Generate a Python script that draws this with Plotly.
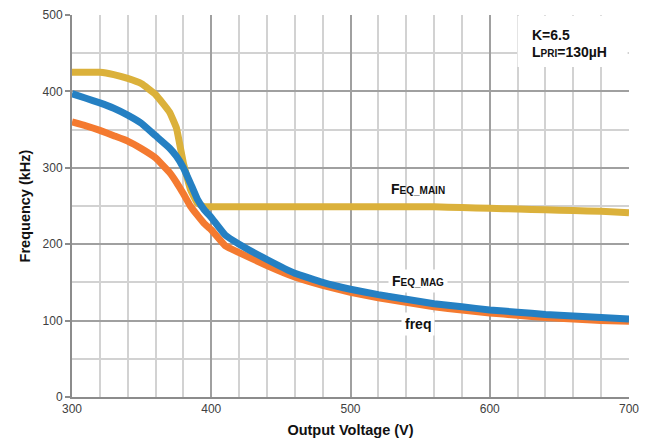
import plotly.graph_objects as go

voltage = [300, 310, 320, 330, 340, 350, 360, 370, 375, 380, 385, 390, 395, 400,
           410, 420, 440, 460, 480, 500, 520, 540, 560, 580, 600, 620, 640, 660, 680, 700]
f_eq_main = [425, 425, 425, 422, 417, 410, 396, 373, 352, 306, 272, 254, 249, 249,
             249, 249, 249, 249, 249, 249, 249, 249, 249, 248, 247, 246, 245, 244, 243, 241]
f_eq_mag = [397, 391, 385, 378, 369, 358, 342, 326, 315, 300, 280, 259, 245, 235,
            212, 200, 180, 162, 150, 141, 134, 128, 122, 118, 114, 111, 108, 106, 104, 102]
freq = [360, 355, 349, 342, 335, 325, 313, 294, 281, 266, 250, 238, 227, 219,
        198, 189, 172, 157, 146, 137, 130, 124, 118, 114, 110, 107, 104, 102, 100, 99]

x_ticks = [300, 400, 500, 600, 700]
y_ticks = [0, 100, 200, 300, 400, 500]

GOLD = "#DBB13B"
BLUE = "#2580C3"
ORANGE = "#F47A30"
TITLE_FONT = "Liberation Sans Narrow, Arial Narrow, Liberation Sans, Arial"
TICK_FONT = "Liberation Sans, Arial"

fig = go.Figure()
fig.add_trace(go.Scatter(x=voltage, y=f_eq_main, mode="lines", name="F_EQ_MAIN",
                         line=dict(color=GOLD, width=7, shape="spline", smoothing=0.3)))
fig.add_trace(go.Scatter(x=voltage, y=freq, mode="lines", name="freq",
                         line=dict(color=ORANGE, width=7, shape="spline", smoothing=0.3)))
fig.add_trace(go.Scatter(x=voltage, y=f_eq_mag, mode="lines", name="F_EQ_MAG",
                         line=dict(color=BLUE, width=7, shape="spline", smoothing=0.3)))

# white box behind K / L_PRI text
fig.add_shape(type="rect", x0=620, x1=699, y0=432, y1=499, xref="x", yref="y",
              fillcolor="white", line=dict(width=0), layer="between")

ann_font = dict(family="Liberation Sans, Arial", size=14, color="#111111")
SUB = '<span style="font-size:10px">{}</span>'
fig.add_annotation(x=548.5, y=272, text="<b>F" + SUB.format("EQ_MAIN") + "</b>",
                   showarrow=False, font=ann_font)
fig.add_annotation(x=548.5, y=152, text="<b>F" + SUB.format("EQ_MAG") + "</b>",
                   showarrow=False, font=ann_font, bgcolor="white", borderpad=3)
fig.add_annotation(x=548.5, y=95, text="<b>freq</b>", showarrow=False,
                   font=ann_font, bgcolor="white", borderpad=3)
fig.add_annotation(x=629, y=474, text="<b>K=6.5</b>", showarrow=False, xanchor="left",
                   font=ann_font)
fig.add_annotation(x=629, y=452, text="<b>L" + SUB.format("PRI") + "=130µH</b>",
                   showarrow=False, xanchor="left", font=ann_font)

# page body has an 8px margin; size the figure so the plot lands where the reference has it
fig.update_layout(
    width=648, height=438,
    margin=dict(l=64, r=27, t=7, b=49),
    paper_bgcolor="white", plot_bgcolor="white",
    showlegend=False,
    xaxis=dict(
        range=[300, 700], tickvals=x_ticks, ticktext=[str(v) for v in x_ticks],
        showgrid=True, gridcolor="#a0a0a0", gridwidth=1.5,
        minor=dict(dtick=20, tick0=300, showgrid=True, gridcolor="#d2d2d2", gridwidth=1.5),
        showline=True, linecolor="#8c8c8c", linewidth=2,
        ticks="", zeroline=False, ticklabeloverflow="allow", automargin=False,
        tickfont=dict(family=TICK_FONT, size=12, color="#404040"),
        title=dict(text="<b>Output Voltage (V)</b>",
                   font=dict(family=TITLE_FONT, size=14.5, color="#111111"), standoff=9),
    ),
    yaxis=dict(
        range=[0, 500], tickvals=y_ticks, ticktext=[str(v) for v in y_ticks],
        showgrid=True, gridcolor="#a0a0a0", gridwidth=1.5,
        minor=dict(dtick=50, tick0=0, showgrid=True, gridcolor="#d2d2d2", gridwidth=1.5),
        showline=True, linecolor="#8c8c8c", linewidth=2,
        ticks="outside", ticklen=5, tickcolor="#8c8c8c", tickwidth=1.5,
        zeroline=False, ticklabeloverflow="allow", automargin=False,
        tickfont=dict(family=TICK_FONT, size=12, color="#404040"),
        title=dict(text="<b>Frequency (kHz)</b>",
                   font=dict(family=TITLE_FONT, size=14.5, color="#111111"), standoff=8),
    ),
)

fig.write_html("out.html")
